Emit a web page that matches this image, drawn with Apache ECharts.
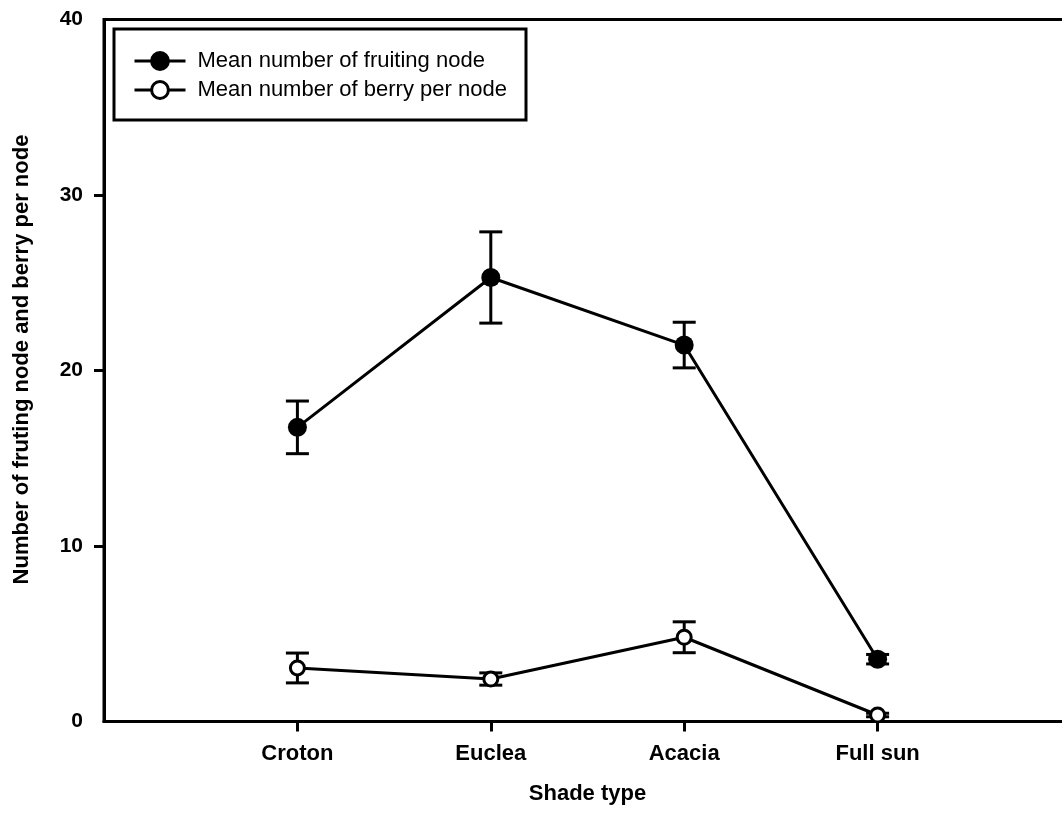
<!DOCTYPE html>
<html>
<head>
<meta charset="utf-8">
<script src="https://cdn.jsdelivr.net/npm/echarts@6/dist/echarts.min.js"></script>
<style>html,body{margin:0;padding:0;background:#fff;}#c{width:1062px;height:819px;}</style>
</head>
<body>
<div id="c"></div>
<script>
var categories = ['Croton', 'Euclea', 'Acacia', 'Full sun'];
var fruitingMean = [16.76, 25.3, 21.45, 3.55];
var fruitingErr = [1.5, 2.6, 1.3, 0.27];
var berryMean = [3.05, 2.42, 4.8, 0.37];
var berryErr = [0.85, 0.35, 0.88, 0.1];
var yTicks = [0, 10, 20, 30, 40];
var yTickMarks = [10, 20, 30];
var seriesNames = ['Mean number of fruiting node', 'Mean number of berry per node'];

var axisCats = [''].concat(categories, ['']);
function pts(means) { return categories.map(function (c, i) { return [c, means[i]]; }); }
function errs(means, e) { return categories.map(function (c, i) { return [c, means[i] - e[i], means[i] + e[i]]; }); }

function errRender(params, api) {
  var lo = api.coord([api.value(0), api.value(1)]);
  var hi = api.coord([api.value(0), api.value(2)]);
  var w = 11.5;
  var st = { stroke: '#000', lineWidth: 3 };
  return {
    type: 'group',
    children: [
      { type: 'line', shape: { x1: lo[0], y1: lo[1], x2: hi[0], y2: hi[1] }, style: st },
      { type: 'line', shape: { x1: lo[0] - w, y1: lo[1], x2: lo[0] + w, y2: lo[1] }, style: st },
      { type: 'line', shape: { x1: hi[0] - w, y1: hi[1], x2: hi[0] + w, y2: hi[1] }, style: st }
    ]
  };
}

var chart = echarts.init(document.getElementById('c'), null, { renderer: 'canvas' });
var font = 'Liberation Sans, Arial, sans-serif';
chart.setOption({
  animation: false,
  textStyle: { fontFamily: font },
  grid: { left: 104, top: 19.5, width: 967, height: 702, outerBoundsMode: 'none', containLabel: false, show: true, borderColor: '#000', borderWidth: 3, backgroundColor: 'transparent' },
  legend: {
    orient: 'vertical', left: 128, top: 45, itemWidth: 51, itemHeight: 21, itemGap: 7,
    lineStyle: { width: 3, color: '#000' },
    itemStyle: { borderWidth: 3, borderColor: '#000' },
    textStyle: { fontSize: 22, color: '#000', fontFamily: font, padding: [0, 0, 0, 7] },
    data: seriesNames
  },
  graphic: [
    { type: 'rect', shape: { x: 114, y: 29, width: 412, height: 91 }, style: { fill: 'none', stroke: '#000', lineWidth: 3 }, z: 100 }
  ],
  xAxis: {
    type: 'category', data: axisCats, boundaryGap: false,
    name: 'Shade type', nameLocation: 'middle', nameGap: 61,
    nameTextStyle: { fontSize: 22, fontWeight: 'bold', color: '#000', fontFamily: font },
    axisLine: { lineStyle: { color: '#000', width: 3 } },
    axisTick: { length: 10, lineStyle: { color: '#000', width: 3 }, interval: function (i, v) { return v !== ''; } },
    axisLabel: { fontSize: 22, fontWeight: 'bold', color: '#000', margin: 21, interval: function (i, v) { return v !== ''; } },
    splitLine: { show: false }
  },
  yAxis: {
    type: 'value', min: yTicks[0], max: yTicks[yTicks.length - 1], interval: 10,
    name: 'Number of fruting node and berry per node', nameLocation: 'middle', nameGap: 71,
    nameTextStyle: { fontSize: 22, fontWeight: 'bold', color: '#000', fontFamily: font, padding: [0, 0, 0, 22] },
    axisLine: { show: true, lineStyle: { color: '#000', width: 3 } },
    axisTick: { show: true, length: 10, customValues: yTickMarks, lineStyle: { color: '#000', width: 3 } },
    axisLabel: { fontSize: 21, fontWeight: 'bold', color: '#000', margin: 21 },
    splitLine: { show: false }
  },
  series: [
    { type: 'custom', renderItem: errRender, data: errs(fruitingMean, fruitingErr), encode: { x: 0, y: [1, 2] }, z: 1, silent: true },
    { type: 'custom', renderItem: errRender, data: errs(berryMean, berryErr), encode: { x: 0, y: [1, 2] }, z: 1, silent: true },
    {
      name: seriesNames[0], type: 'line', data: pts(fruitingMean), symbol: 'circle', symbolSize: 19, showAllSymbol: true,
      lineStyle: { color: '#000', width: 3 }, itemStyle: { color: '#000', borderColor: '#000', borderWidth: 0 }, z: 3
    },
    {
      name: seriesNames[1], type: 'line', data: pts(berryMean), symbol: 'circle', symbolSize: 14, showAllSymbol: true,
      lineStyle: { color: '#000', width: 3 }, itemStyle: { color: '#fff', borderColor: '#000', borderWidth: 3 }, z: 3
    }
  ]
});
</script>
</body>
</html>
